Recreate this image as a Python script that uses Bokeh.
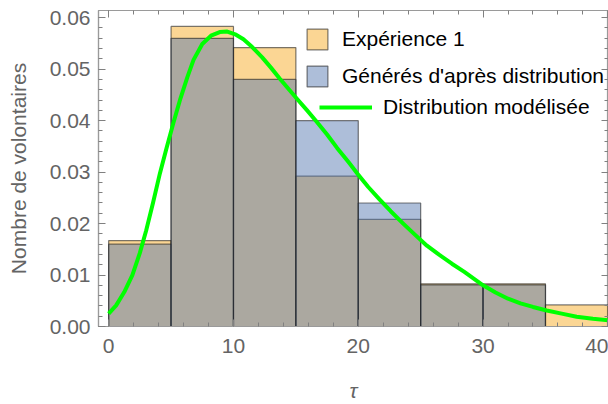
from bokeh.plotting import figure
from bokeh.models import (Range1d, LinearAxis, SingleIntervalTicker, NumeralTickFormatter,
                          Legend, LegendItem, ColumnDataSource, CustomJSTickFormatter)
from bokeh.embed import file_html
from bokeh.resources import INLINE

# ---- data ----
bin_left = [0, 5, 10, 15, 20, 25, 30, 35]
bin_width = 5
experience1 = [0.0167, 0.0583, 0.0542, 0.0292, 0.0208, 0.0083, 0.0083, 0.0042]
generes = [0.0160, 0.0560, 0.0480, 0.0400, 0.0240, 0.0081, 0.0081, 0.0]

curve_x = [0.0, 0.6, 1.25, 1.9, 2.5, 3.0, 3.55, 4.1, 4.65, 5.2, 5.75, 6.3, 6.8, 7.5,
           8.2, 8.9, 9.5, 10.2, 10.8, 11.5, 12.3, 13.0, 13.7, 14.4, 15.1, 15.9, 16.7,
           17.5, 18.3, 19.2, 20.0, 20.8, 21.7, 22.6, 23.6, 24.6, 25.5, 26.5, 27.5,
           28.5, 30.0, 31.0, 32.0, 33.0, 34.0, 35.1, 36.3, 37.5, 38.8, 40.1, 40.6]
curve_y = [0.0025, 0.0041, 0.0067, 0.0100, 0.0143, 0.0186, 0.0240, 0.0297, 0.0348,
           0.0397, 0.0443, 0.0484, 0.0518, 0.0549, 0.0565, 0.0572, 0.0573, 0.0567,
           0.0558, 0.0543, 0.0523, 0.0503, 0.0482, 0.0462, 0.0442, 0.0420, 0.0397,
           0.0373, 0.0347, 0.0320, 0.0295, 0.0271, 0.0247, 0.0224, 0.0200, 0.0177,
           0.0157, 0.0139, 0.0122, 0.0106, 0.0080, 0.0066, 0.0054, 0.0045, 0.0038,
           0.0031, 0.0025, 0.0019, 0.0015, 0.0012, 0.0010]

labels = ["Expérience 1", "Générés d'après distribution", "Distribution modélisée"]
x_title = "τ"
y_title = "Nombre de volontaires"

X_START, X_END = -0.815, 40.05
Y_START, Y_END = 0.0, 0.0614

FONT = "Liberation Sans"
GRAY_TXT = "#646464"
FS = "21px"

centers = [b + bin_width / 2 for b in bin_left]

p = figure(width=608, height=404, output_backend="svg", toolbar_location=None,
           x_range=Range1d(X_START, X_END), y_range=Range1d(Y_START, Y_END),
           x_axis_type=None, y_axis_type=None,
           min_border_left=98, min_border_right=0, min_border_top=10, min_border_bottom=78)
p.outline_line_color = "#9a9a9a"
p.outline_line_width = 1.2
p.xgrid.visible = False
p.ygrid.visible = False
p.background_fill_color = "white"

src1 = ColumnDataSource(dict(x=centers, top=experience1))
src2 = ColumnDataSource(dict(x=centers, top=generes))

r1 = p.vbar(x="x", top="top", bottom=0, width=bin_width, source=src1,
            fill_color=(246, 167, 25), fill_alpha=0.465,
            line_color="#222222", line_alpha=0.6, line_width=1.2)
r2 = p.vbar(x="x", top="top", bottom=0, width=bin_width, source=src2,
            fill_color=(79, 115, 173), fill_alpha=0.465,
            line_color="#222222", line_alpha=0.6, line_width=1.2)
r3 = p.line(curve_x, curve_y, line_color="#00ff00", line_width=4, line_join="round")


def style_axis(ax, labels_on=True):
    ax.axis_line_color = "#9a9a9a"
    ax.axis_line_width = 1.2
    ax.major_tick_in = 7
    ax.major_tick_out = 0
    ax.minor_tick_in = 4
    ax.minor_tick_out = 0
    ax.major_tick_line_color = "#808080"
    ax.minor_tick_line_color = "#808080"
    ax.major_label_text_font = FONT
    ax.major_label_text_color = GRAY_TXT
    if labels_on:
        ax.major_label_text_font_size = FS
    else:
        ax.formatter = CustomJSTickFormatter(code="return ''")
        ax.major_label_text_font_size = "1px"
        ax.major_label_standoff = 0
        ax.axis_label_standoff = 0


xt = SingleIntervalTicker(interval=10, num_minor_ticks=5)
yt = SingleIntervalTicker(interval=0.01, num_minor_ticks=5)

xb = LinearAxis(ticker=xt, axis_label=x_title)
style_axis(xb)
xb.major_label_standoff = 12
xb.axis_label_text_font = FONT
xb.axis_label_text_font_size = FS
xb.axis_label_text_font_style = "italic"
xb.axis_label_text_color = GRAY_TXT
xb.axis_label_standoff = 23
p.add_layout(xb, "below")

yl = LinearAxis(ticker=yt, axis_label=y_title, formatter=NumeralTickFormatter(format="0.00"))
style_axis(yl)
yl.major_label_standoff = 8
yl.axis_label_text_font = FONT
yl.axis_label_text_font_size = FS
yl.axis_label_text_font_style = "normal"
yl.axis_label_text_color = GRAY_TXT
yl.axis_label_standoff = 17
p.add_layout(yl, "left")

xa = LinearAxis(ticker=SingleIntervalTicker(interval=10, num_minor_ticks=5))
style_axis(xa, labels_on=False)
p.add_layout(xa, "above")

yr = LinearAxis(ticker=SingleIntervalTicker(interval=0.01, num_minor_ticks=5))
style_axis(yr, labels_on=False)
p.add_layout(yr, "right")

leg1 = Legend(items=[LegendItem(label=labels[0], renderers=[r1]),
                     LegendItem(label=labels[1], renderers=[r2])],
              location=(206, 237), glyph_width=26, glyph_height=26, label_height=26,
              spacing=11, label_standoff=12, padding=0, margin=0,
              border_line_color=None, background_fill_alpha=0,
              label_text_font=FONT, label_text_font_size=FS, label_text_color="black")
leg2 = Legend(items=[LegendItem(label=labels[2], renderers=[r3])],
              location=(221, 207), glyph_width=53, glyph_height=24, label_height=24,
              label_standoff=11, padding=0, margin=0,
              border_line_color=None, background_fill_alpha=0,
              label_text_font=FONT, label_text_font_size=FS, label_text_color="black")
p.add_layout(leg1, "center")
p.add_layout(leg2, "center")

open("out.html", "w").write(file_html(p, INLINE))
